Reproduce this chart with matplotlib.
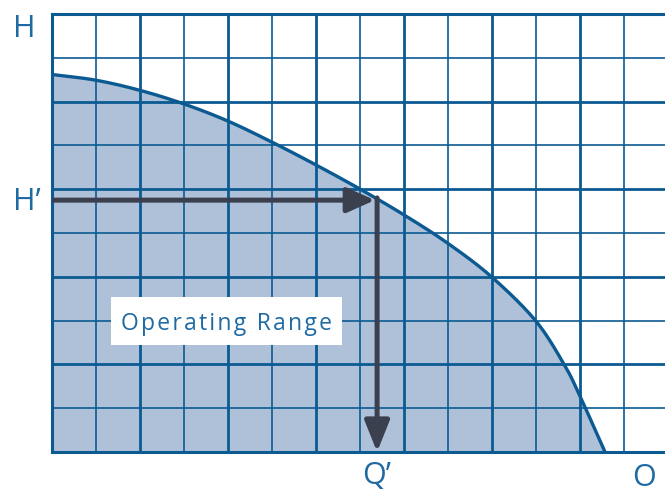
import matplotlib
matplotlib.use("Agg")
import matplotlib.pyplot as plt
from matplotlib.patches import FancyArrowPatch, Rectangle
import numpy as np

# Pump curve (grid units): flow Q vs head H
flow = [0.0, 1.0, 2.0, 3.0, 4.0, 5.0, 6.0, 7.0, 8.0, 9.0, 10.0, 11.0, 11.65, 12.0, 12.58]
head = [8.62, 8.49, 8.26, 7.95, 7.56, 7.08, 6.56, 6.01, 5.42, 4.77, 4.00, 3.00, 2.00, 1.30, 0.0]

# Operating point
q_op = 7.40
h_op = 5.75

major_x = np.arange(0, 14, 2)
minor_x = np.arange(1, 14, 2)
major_y = np.arange(0, 11, 2)
minor_y = np.arange(1, 11, 2)

W, H = 665, 492
blue = "#0b5a92"
fill_c = "#afc0d9"
text_c = "#1f6aa3"
arrow_c = "#3b404f"
font = ["Open Sans", "DejaVu Sans"]


def smooth(xs, ys, n=20):
    """Catmull-Rom rendering of the read points (drawing only)."""
    P = np.column_stack([xs, ys]).astype(float)
    P = np.vstack([2 * P[0] - P[1], P, 2 * P[-1] - P[-2]])
    out = []
    t = np.linspace(0, 1, n, endpoint=False)[:, None]
    for i in range(1, len(P) - 2):
        p0, p1, p2, p3 = P[i - 1], P[i], P[i + 1], P[i + 2]
        seg = 0.5 * ((2 * p1) + (-p0 + p2) * t + (2 * p0 - 5 * p1 + 4 * p2 - p3) * t ** 2
                     + (-p0 + 3 * p1 - 3 * p2 + p3) * t ** 3)
        out.append(seg)
    out.append(P[-2][None, :])
    out = np.vstack(out)
    return out[:, 0], out[:, 1]


fig = plt.figure(figsize=(W / 100, H / 100), dpi=100)
ax = fig.add_axes([51.5 / W, (H - 452) / H, (W - 51.5) / W, (452 - 14) / H])
ax.set_xlim(0, (W - 51.5) / 44)
ax.set_ylim(0, 10)

ax.set_xticks(major_x)
ax.set_xticks(minor_x, minor=True)
ax.set_yticks(major_y)
ax.set_yticks(minor_y, minor=True)
ax.tick_params(which="both", length=0, labelleft=False, labelbottom=False)
ax.grid(True, which="major", color=blue, lw=2.0, zorder=2)
ax.grid(True, which="minor", color=blue, lw=1.2, zorder=2)
ax.set_axisbelow(False)
for s in ["left", "bottom", "top"]:
    ax.spines[s].set_color(blue)
    ax.spines[s].set_linewidth(2.2)
ax.spines["right"].set_visible(False)

sx, sy = smooth(flow, head)
ax.fill_between(sx, sy, 0, color=fill_c, lw=0, zorder=1)
ax.plot(sx, sy, color=blue, lw=2.4, zorder=3, solid_capstyle="butt")

# Operating range box
ax.add_patch(Rectangle((1.35, 2.44), 5.25, 1.10, facecolor="white", edgecolor="none", zorder=4))
label = "\u200a".join("Operating Range")
ax.text(1.58, 2.78, label, fontsize=16.5, color=text_c, family=font,
        ha="left", va="baseline", zorder=5)

# Arrows
a1 = FancyArrowPatch((0, h_op), (q_op - 0.05, h_op), arrowstyle="-|>,head_length=0.85,head_width=0.38",
                     mutation_scale=20, color=arrow_c, lw=3.6, shrinkA=0, shrinkB=0, zorder=6)
ax.add_patch(a1)
a2 = FancyArrowPatch((q_op, h_op + 0.05), (q_op, 0), arrowstyle="-|>,head_length=0.95,head_width=0.38",
                     mutation_scale=20, color=arrow_c, lw=3.6, shrinkA=0, shrinkB=0, zorder=6,
                     clip_on=False)
ax.add_patch(a2)


def ftext(x, y, s):
    fig.text(x / W, 1 - y / H, s, fontsize=22, color=text_c, family=font,
             ha="left", va="baseline")


ftext(12.5, 37, "H")
ftext(12.5, 210, "H’")
ftext(362, 484, "Q’")
ftext(632, 486, "O")

fig.savefig("out.png", dpi=100)
